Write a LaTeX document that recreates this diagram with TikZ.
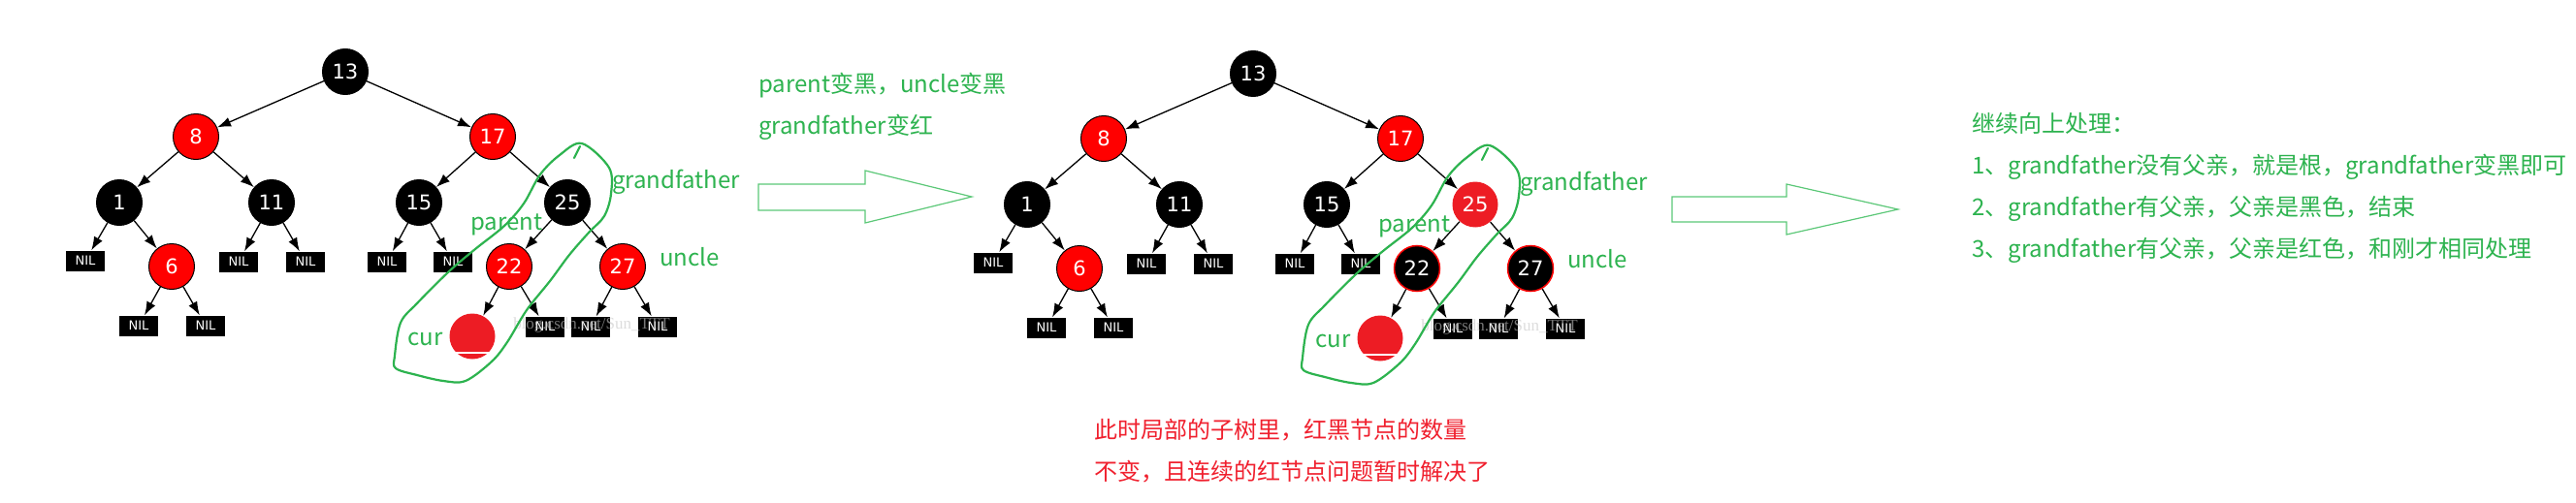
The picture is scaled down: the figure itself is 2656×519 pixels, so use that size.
\documentclass[tikz,border=0pt]{standalone}
\usepackage{fontspec}
\setmainfont{Noto Sans CJK SC}
\newfontfamily\treefont{DejaVu Sans}
\newfontfamily\markfont{Liberation Serif}
\usetikzlibrary{arrows.meta}
\definecolor{treeRed}{HTML}{FF0000}
\definecolor{paintRed}{HTML}{ED1C24}
\definecolor{noteGreen}{HTML}{2DB34F}
\definecolor{arrowGreen}{HTML}{5CC878}
\definecolor{noteRed}{HTML}{F0202E}

\tikzset{
  rednode/.style={circle,draw=black,line width=1pt,fill=treeRed,text=white,minimum size=47pt,inner sep=0pt,font=\treefont\fontsize{21}{21}\selectfont},
  blacknode/.style={rednode,fill=black},
  paintnode/.style={rednode,draw=none,fill=paintRed},
  flipnode/.style={rednode,fill=black,draw=treeRed,line width=1.5pt},
  nil/.style={rectangle,fill=black,text=white,minimum width=40pt,minimum height=21pt,inner sep=0pt,font=\treefont\fontsize{13}{13}\selectfont},
  edge/.style={-{Latex[length=14pt,width=10pt]},line width=1.3pt,black},
  note/.style={text=noteGreen,anchor=west,inner sep=0pt,align=left,font=\fontsize{24}{43}\selectfont},
  redline/.style={note,text=noteRed},
  loopline/.style={noteGreen,line width=2.2pt,line join=round,line cap=round},
  hollow/.style={draw=arrowGreen,line width=1.2pt,fill=white},
  mark/.style={}
}

% #1 prefix, #2 shift, #3 style of 25, #4 style of 22 and 27
\newcommand{\rbtree}[4]{%
\begin{scope}[shift={(#2)}]
\node[blacknode] (#1-13) at (356,74) {13};
\node[rednode] (#1-8) at (202,141) {8};
\node[rednode] (#1-17) at (508,141) {17};
\node[blacknode] (#1-1) at (123,209) {1};
\node[blacknode] (#1-11) at (280,209) {11};
\node[blacknode] (#1-15) at (432,209) {15};
\node[#3] (#1-25) at (585,209) {25};
\node[rednode] (#1-6) at (177,275) {6};
\node[#4] (#1-22) at (525,275) {22};
\node[#4] (#1-27) at (642,275) {27};
\node[paintnode] (#1-cur) at (487,347) {};
\draw[white,line width=1.2pt] ([shift={(-17,17)}]#1-cur.center) -- ([shift={(18,17)}]#1-cur.center);
% NIL leaves
\node[nil] (#1-n1) at (88,269) {NIL};
\node[nil] (#1-n11a) at (246,270) {NIL};
\node[nil] (#1-n11b) at (315,270) {NIL};
\node[nil] (#1-n15a) at (399,270) {NIL};
\node[nil] (#1-n15b) at (467,270) {NIL};
\node[nil] (#1-n6a) at (143,336) {NIL};
\node[nil] (#1-n6b) at (212,336) {NIL};
\node[nil] (#1-n22b) at (562,337) {NIL};
\node[nil] (#1-n27a) at (609,337) {NIL};
\node[nil] (#1-n27b) at (678,337) {NIL};
\foreach \a/\b in {13/8,13/17,8/1,8/11,1/n1,1/6,11/n11a,11/n11b,6/n6a,6/n6b,
  17/15,17/25,15/n15a,15/n15b,25/22,25/27,22/cur,22/n22b,27/n27a,27/n27b}
  \draw[edge] (#1-\a) -- (#1-\b);
\node[text=gray!45,inner sep=0pt,font=\markfont\fontsize{17}{17}\selectfont,opacity=0.6] (#1-mark) at (610,335) {blog.csdn.net/Sun\_TTT};
% hand drawn ring
\draw[loopline] plot[smooth cycle,tension=0.55] coordinates {(600,148) (628,173) (630,200) (623,223) (607,240) (587,263) (567,290) (543,320) (523,353) (507,373) (480,393) (457,393) (430,387) (408,380) (407,367) (413,333) (430,313) (463,280) (490,257) (520,233) (540,210) (557,180) (577,160)};
\draw[loopline] (592,163) -- (598,151);
\node[note] (#1-grand) at (631,188) {grandfather};
\node[note] (#1-parent) at (485,232) {parent};
\node[note] (#1-uncle) at (680,265) {uncle};
\node[note] (#1-curlabel) at (420,350) {cur};
\end{scope}}

\begin{document}
\begin{tikzpicture}[x=1pt,y=-1pt]
\useasboundingbox (0,0) rectangle (2656,519);
\fill[white] (0,0) rectangle (2656,519);

\rbtree{L}{0,0}{blacknode}{rednode}
\rbtree{M}{936,2}{paintnode}{flipnode}

% recolouring step
\node[note] (recolor) at (782,110) {parent变黑，uncle变黑\\grandfather变红};
\draw[hollow] (782,190) -- (892,190) -- (892,176) -- (1002,203) -- (892,230) -- (892,217) -- (782,217) -- cycle;

% result
\node[redline] (result) at (1128,465) {此时局部的子树里，红黑节点的数量\\不变，且连续的红节点问题暂时解决了};

% next step
\draw[hollow] (1724,203) -- (1842,203) -- (1842,190) -- (1957,216) -- (1842,242) -- (1842,229) -- (1724,229) -- cycle;
\node[note] (upward) at (2033,194) {继续向上处理：\\1、grandfather没有父亲，就是根，grandfather变黑即可\\2、grandfather有父亲，父亲是黑色，结束\\3、grandfather有父亲，父亲是红色，和刚才相同处理};
\end{tikzpicture}
\end{document}
